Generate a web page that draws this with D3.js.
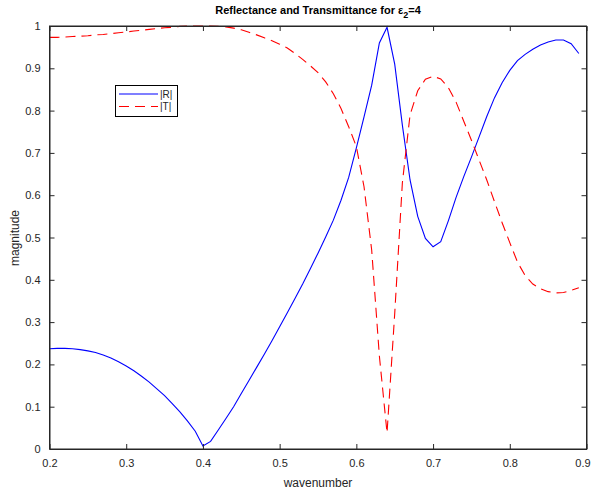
<!DOCTYPE html>
<html><head><meta charset="utf-8">
<script src="https://cdn.jsdelivr.net/npm/d3@7"></script>
<style>body{margin:0;background:#fff}text{font-family:"Liberation Sans",Arial,sans-serif}</style>
</head><body>
<svg id="c" width="593" height="493"></svg>
<script>
const wavenumber = [0.20,0.21,0.22,0.23,0.24,0.25,0.26,0.27,0.28,0.29,0.30,0.31,0.32,0.33,0.34,0.35,0.36,0.37,0.38,0.39,0.40,0.41,0.42,0.43,0.44,0.45,0.46,0.47,0.48,0.49,0.50,0.51,0.52,0.53,0.54,0.55,0.56,0.57,0.58,0.59,0.60,0.61,0.62,0.63,0.64,0.65,0.66,0.67,0.68,0.69,0.70,0.71,0.72,0.73,0.74,0.75,0.76,0.77,0.78,0.79,0.80,0.81,0.82,0.83,0.84,0.85,0.86,0.87,0.88,0.89];
const reflectance = [0.237,0.238,0.238,0.237,0.235,0.232,0.228,0.222,0.215,0.206,0.196,0.185,0.172,0.158,0.142,0.126,0.107,0.088,0.066,0.042,0.007,0.018,0.045,0.072,0.100,0.131,0.162,0.193,0.224,0.256,0.289,0.322,0.356,0.390,0.426,0.463,0.501,0.541,0.588,0.642,0.712,0.785,0.860,0.960,0.997,0.910,0.765,0.636,0.550,0.498,0.478,0.490,0.540,0.595,0.644,0.690,0.738,0.786,0.830,0.866,0.895,0.918,0.933,0.945,0.955,0.962,0.967,0.967,0.958,0.935];
const transmittance = [0.973,0.973,0.974,0.975,0.976,0.977,0.979,0.980,0.982,0.984,0.986,0.988,0.990,0.992,0.994,0.996,0.997,0.999,1.000,1.000,1.000,1.000,0.999,0.998,0.995,0.991,0.985,0.979,0.972,0.965,0.957,0.948,0.935,0.921,0.906,0.890,0.868,0.840,0.805,0.762,0.715,0.620,0.470,0.220,0.038,0.320,0.630,0.790,0.847,0.874,0.881,0.875,0.854,0.820,0.775,0.730,0.683,0.636,0.585,0.535,0.488,0.442,0.410,0.390,0.379,0.372,0.369,0.370,0.375,0.381];
const xTicks = [0.2,0.3,0.4,0.5,0.6,0.7,0.8,0.9];
const yTicks = [0,0.1,0.2,0.3,0.4,0.5,0.6,0.7,0.8,0.9,1];
const seriesNames = ["|R|","|T|"];

const svg = d3.select("#c");
const L=49.5,R=586.5,T=26,B=449;
const x = d3.scaleLinear().domain([0.2,0.9]).range([L,R]);
const y = d3.scaleLinear().domain([0,1]).range([B,T]);
const axCol="#262626";

const line = d3.line().x((d,i)=>x(wavenumber[i])).y(d=>y(d));
svg.append("path").datum(reflectance).attr("d",line).attr("fill","none").attr("stroke","#0000ff").attr("stroke-width",1.1);
svg.append("path").datum(transmittance).attr("d",line).attr("fill","none").attr("stroke","#ff0000").attr("stroke-width",1.1).attr("stroke-dasharray","10,6");

const fmt = d=>d===0?"0":(d===1?"1":d3.format(".1f")(d));
const gx = svg.append("g").attr("transform",`translate(0,${B})`).call(d3.axisBottom(x).tickValues(xTicks).tickFormat(fmt).tickSizeInner(-5).tickSizeOuter(0).tickPadding(10));
const gy = svg.append("g").attr("transform",`translate(${L},0)`).call(d3.axisLeft(y).tickValues(yTicks).tickFormat(fmt).tickSizeInner(-5).tickSizeOuter(0).tickPadding(9));
const gx2 = svg.append("g").attr("transform",`translate(0,${T})`).call(d3.axisTop(x).tickValues(xTicks).tickFormat("").tickSizeInner(-5).tickSizeOuter(0));
const gy2 = svg.append("g").attr("transform",`translate(${R},0)`).call(d3.axisRight(y).tickValues(yTicks).tickFormat("").tickSizeInner(-5).tickSizeOuter(0));
[gx,gy,gx2,gy2].forEach(g=>{
  g.selectAll("path").attr("stroke",axCol);
  g.selectAll("line").attr("stroke",axCol);
  g.selectAll("text").attr("fill",axCol).style("font-size","11px").style("font-family","'Liberation Sans',Arial,sans-serif");
});
gx.selectAll(".tick text").filter(d=>d===0.9).attr("dx",-4);
svg.append("rect").attr("x",L).attr("y",T).attr("width",R-L).attr("height",B-T).attr("fill","none").attr("stroke",axCol).attr("stroke-width",1);

svg.append("text").attr("x",318).attr("y",487).attr("text-anchor","middle").attr("fill",axCol).style("font-size","12px").text("wavenumber");
svg.append("text").attr("transform","translate(19,238) rotate(-90)").attr("text-anchor","middle").attr("fill",axCol).style("font-size","12px").text("magnitude");

const title = svg.append("text").attr("x",318).attr("y",14).attr("text-anchor","middle").attr("fill","#000").style("font-size","11px").style("font-weight","bold");
title.append("tspan").text("Reflectance and Transmittance for ");
title.append("tspan").text("ε");
title.append("tspan").attr("dy",4).style("font-size","9px").text("2");
title.append("tspan").attr("dy",-4).text("=4");

const lg = svg.append("g");
lg.append("rect").attr("x",115.5).attr("y",85.5).attr("width",62).attr("height",31).attr("fill","#fff").attr("stroke","#000").attr("stroke-width",1);
const cols=["#0000ff","#ff0000"], dashes=[null,"10,6"];
seriesNames.forEach((n,i)=>{
  const yy = 94+i*12.5;
  lg.append("line").attr("x1",119).attr("x2",158).attr("y1",yy).attr("y2",yy).attr("stroke",cols[i]).attr("stroke-width",1.1).attr("stroke-dasharray",dashes[i]);
  lg.append("text").attr("x",160).attr("y",yy+3.5).attr("fill",axCol).style("font-size","10px").text(n);
});
</script>
</body></html>
